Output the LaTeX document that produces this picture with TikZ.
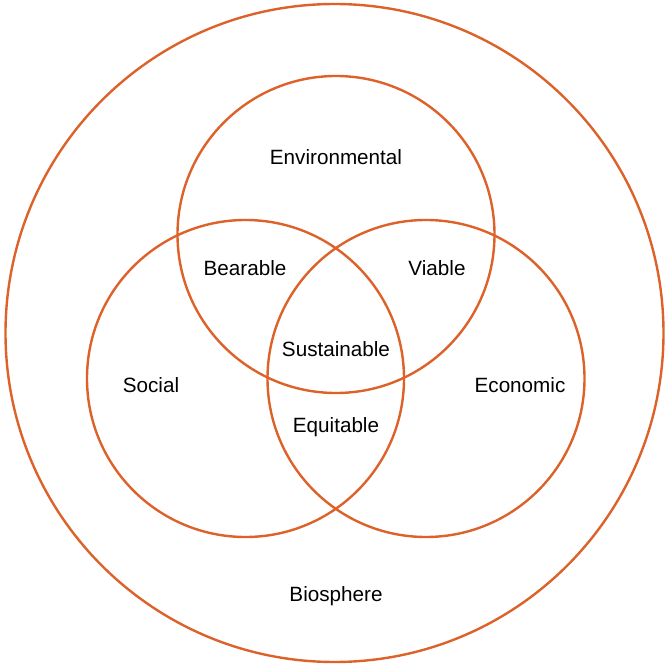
\documentclass[tikz,border=0pt]{standalone}
\usepackage{fontspec}
\setmainfont{Liberation Sans}
\definecolor{ringorange}{RGB}{221,98,42}
\tikzset{every picture/.style={line width=0.75pt}}
\tikzset{
  ring/.style={draw=ringorange,line width=1.8pt},
  label/.style={inner sep=0.75pt,font=\fontsize{15.5}{18}\selectfont,text=black}
}
\begin{document}
\begin{tikzpicture}[x=0.75pt,y=0.75pt,yscale=-1,xscale=1]
\useasboundingbox (0,0) rectangle (668,666);

%Shape: Circle [biosphere]
\draw [ring] (334.5,333) circle (329);
%Shape: Circle [environmental]
\draw [ring] (336,234.5) circle (158.5);
%Shape: Circle [social]
\draw [ring] (245.5,378.5) circle (158.5);
%Shape: Circle [economic]
\draw [ring] (426,378.5) circle (158.5);

% Text Node
\node [label] (env) at (336,157) {Environmental};
% Text Node
\node [label] (bear) at (245,268) {Bearable};
% Text Node
\node [label] (viab) at (437,268) {Viable};
% Text Node
\node [label] (sust) at (336,349) {Sustainable};
% Text Node
\node [label] (soc) at (151,385) {Social};
% Text Node
\node [label] (eco) at (520,385) {Economic};
% Text Node
\node [label] (equi) at (336,427) {Equitable};
% Text Node
\node [label] (bio) at (336,596) {Biosphere};

\end{tikzpicture}
\end{document}
